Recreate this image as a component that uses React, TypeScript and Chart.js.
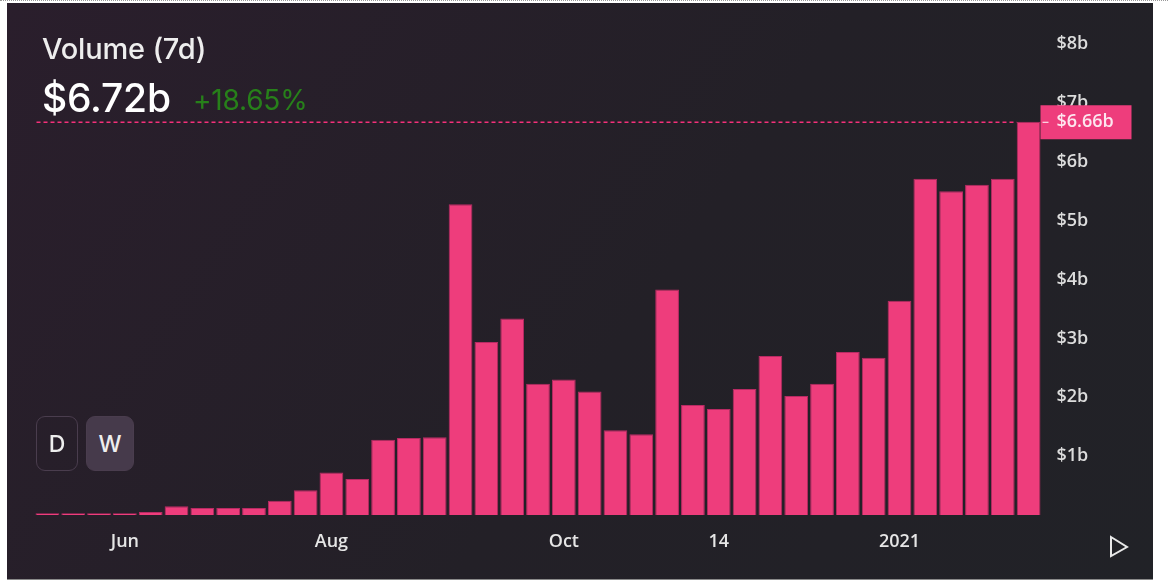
import React, { useEffect, useRef } from 'react';
import Chart from 'chart.js/auto';

// x labels only sit on a few of the weekly bars
const categories = [
  '', '', '', 'Jun', '', '', '', '', '', '', '', 'Aug', '', '', '', '', '', '', '', '',
  'Oct', '', '', '', '', '', '14', '', '', '', '', '', '', '2021', '', '', '', '', '',
];
const volume = [
  0.03, 0.03, 0.03, 0.03, 0.05, 0.15, 0.12, 0.12, 0.12, 0.24, 0.42, 0.72, 0.61,
  1.28, 1.31, 1.32, 5.28, 2.94, 3.34, 2.23, 2.3, 2.1, 1.44, 1.37, 3.83, 1.87,
  1.8, 2.14, 2.7, 2.02, 2.23, 2.77, 2.67, 3.64, 5.71, 5.5, 5.61, 5.71, 6.68,
];
const yTicks = [1, 2, 3, 4, 5, 6, 7, 8];

const TICK_FONT = '"Open Sans", sans-serif';
const PRICE_LABEL = '$6.66b';

// dashed line + price tag for the latest bar
const priceTag = {
  id: 'priceTag',
  afterDatasetsDraw(chart: any) {
    const { ctx, chartArea, scales } = chart;
    const last = volume[volume.length - 1];
    const y = scales.y.getPixelForValue(last) + 0.5;
    const bars = chart.getDatasetMeta(0).data;
    const lastBar = bars[bars.length - 1];
    const barLeft = lastBar.x - lastBar.width / 2;
    ctx.save();
    ctx.strokeStyle = '#f5307a';
    ctx.lineWidth = 1.5;
    ctx.setLineDash([4, 3]);
    ctx.beginPath();
    ctx.moveTo(chartArea.left + 2, y);
    ctx.lineTo(barLeft, y);
    ctx.stroke();
    ctx.setLineDash([]);
    ctx.fillStyle = '#ee3d7c';
    ctx.fillRect(chartArea.right - 1, y - 17, 91, 34);
    ctx.fillStyle = '#fff';
    ctx.fillRect(chartArea.right + 1, y - 0.5, 6, 1);
    ctx.font = '600 18px ' + TICK_FONT;
    ctx.textBaseline = 'middle';
    ctx.fillStyle = '#fde6ef';
    ctx.fillText(PRICE_LABEL, chartArea.right + 15, y);
    ctx.restore();
  },
};

const btn: React.CSSProperties = {
  position: 'absolute',
  top: 416,
  height: 55,
  boxSizing: 'border-box',
  borderRadius: 9,
  border: '1.5px solid #4a3d4e',
  color: '#eee',
  font: '500 23px Inter, sans-serif',
  display: 'flex',
  alignItems: 'center',
  justifyContent: 'center',
};

const text = (left: number, centerY: number, size: number, color: string, weight = 500): React.CSSProperties => ({
  position: 'absolute',
  left,
  top: centerY - size,
  height: size * 2,
  display: 'flex',
  alignItems: 'center',
  color,
  fontFamily: 'Inter, sans-serif',
  fontSize: size,
  fontWeight: weight,
  letterSpacing: '-0.2px',
  whiteSpace: 'nowrap',
});

const App: React.FC = () => {
  const chartRef = useRef<HTMLCanvasElement | null>(null);

  useEffect(() => {
    if (!chartRef.current) return;
    document.body.style.margin = '0';
    const chart = new Chart(chartRef.current, {
      type: 'bar',
      data: {
        labels: categories,
        datasets: [{
          data: volume,
          backgroundColor: '#ee3d7c',
          borderColor: '#b82a63',
          borderWidth: 1,
          barPercentage: 0.92,
          categoryPercentage: 1,
        }],
      },
      options: {
        responsive: false,
        animation: false,
        layout: { padding: { left: 34.5, top: 8, right: 0, bottom: 0 } },
        plugins: { legend: { display: false }, tooltip: { enabled: false } },
        scales: {
          x: {
            grid: { display: false, drawTicks: false },
            border: { display: false },
            afterFit: (s: any) => { s.height = 72; },
            ticks: {
              autoSkip: false,
              maxRotation: 0,
              padding: 16,
              color: '#e6e6e6',
              font: { family: TICK_FONT, size: 18, weight: 600 },
            },
          },
          y: {
            position: 'right',
            min: 0,
            max: 8.31,
            grid: { display: false, drawTicks: false },
            border: { display: false },
            afterFit: (s: any) => { s.width = 126.5; },
            afterBuildTicks: (s: any) => { s.ticks = yTicks.map((value) => ({ value })); },
            ticks: {
              padding: 15,
              color: '#dcdcdc',
              font: { family: TICK_FONT, size: 18, weight: 600 },
              callback: (v: any) => '$' + v + 'b',
            },
          },
        },
      },
      plugins: [priceTag],
    });
    return () => chart.destroy();
  }, []);

  return (
    <div style={{ position: 'relative', width: 1168, height: 587, background: '#fff', overflow: 'hidden' }}>
      <div style={{ position: 'absolute', left: 0, top: 0, width: 1168, borderTop: '1px dotted #999' }} />
      <div style={{
        position: 'absolute', left: 7, top: 3, width: 1146, height: 576,
        background: 'linear-gradient(125deg, #2a1e2c 0%, #232027 55%, #212227 100%)',
        borderBottom: '1px solid #8a8a8a',
      }} />
      <canvas ref={chartRef} width={1168} height={587} style={{ position: 'absolute', left: 0, top: 0, width: 1168, height: 587 }} />
      <div style={text(42, 48, 29, '#eeeeee')}>Volume (7d)</div>
      <div style={text(42, 97, 39, '#ffffff')}>$6.72b</div>
      <div style={text(193, 100, 28, '#27801a', 400)}>+18.65%</div>
      <div style={{ ...btn, left: 36, width: 42 }}>D</div>
      <div style={{ ...btn, left: 86, width: 48, background: '#463a4b' }}>W</div>
      <svg width={24} height={26} style={{ position: 'absolute', left: 1108, top: 534 }}>
        <path d="M3 3 L19 13 L3 22 Z" fill="none" stroke="#e8e8e8" strokeWidth={2} />
      </svg>
    </div>
  );
};

export default App;
